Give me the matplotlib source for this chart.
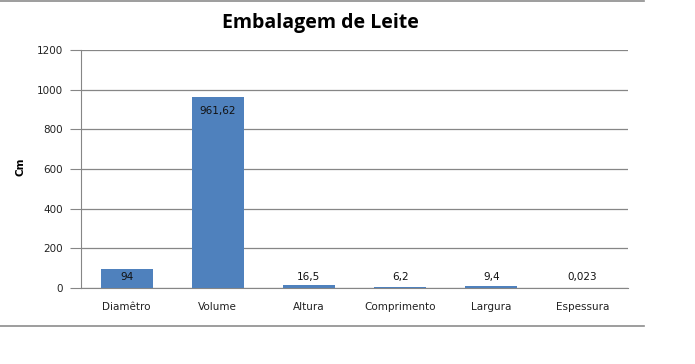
import matplotlib
matplotlib.use("Agg")
import matplotlib.pyplot as plt
from matplotlib.lines import Line2D

categories = ["Diamêtro", "Volume", "Altura", "Comprimento", "Largura", "Espessura"]
values = [94, 961.62, 16.5, 6.2, 9.4, 0.023]
value_labels = ["94", "961,62", "16,5", "6,2", "9,4", "0,023"]
label_y = [55, 892, 55, 55, 55, 55]
y_ticks = [0, 200, 400, 600, 800, 1000, 1200]

W, H = 695, 364
fig = plt.figure(figsize=(W / 100, H / 100), dpi=100)
ax = fig.add_axes([81 / W, 1 - 288 / H, (628 - 81) / W, (288 - 50) / H])

grid_color = "#868686"
ax.bar(range(len(categories)), values, width=0.57, color="#4F81BD", zorder=3)
ax.set_xlim(-0.5, len(categories) - 0.5)
ax.set_ylim(0, 1200)
ax.set_yticks(y_ticks)
ax.set_yticklabels([str(t) for t in y_ticks], fontsize=7.5, color="#222222")
ax.set_xticks(range(len(categories)))
ax.set_xticklabels(categories, fontsize=7.5, color="#222222")
ax.tick_params(axis="x", length=0, pad=10)
ax.tick_params(axis="y", length=8, color=grid_color, pad=5)
ax.yaxis.grid(True, color=grid_color, linewidth=0.9, zorder=0)

for s in ["top", "right"]:
    ax.spines[s].set_visible(False)
ax.spines["left"].set_color(grid_color)
ax.spines["bottom"].set_color(grid_color)

for i, (txt, y) in enumerate(zip(value_labels, label_y)):
    ax.text(i, y, txt, ha="center", va="center", fontsize=7.5, color="#111111", zorder=4)

ax.set_ylabel("Cm", fontsize=7.5, fontweight="bold")
ax.yaxis.set_label_coords(25 / W, 1 - 167 / H, transform=fig.transFigure)

fig.text(320 / W, 1 - 23 / H, "Embalagem de Leite", ha="center", va="center",
         fontsize=14, fontweight="bold", family=["Open Sans", "DejaVu Sans"])

# chart frame lines
fig.add_artist(Line2D([0, 644 / W], [1 - 1 / H, 1 - 1 / H], color="#8c8c8c", linewidth=1.2))
fig.add_artist(Line2D([0, 644 / W], [1 - 326 / H, 1 - 326 / H], color="#8c8c8c", linewidth=1.2))

fig.savefig("out.png", dpi=100)
